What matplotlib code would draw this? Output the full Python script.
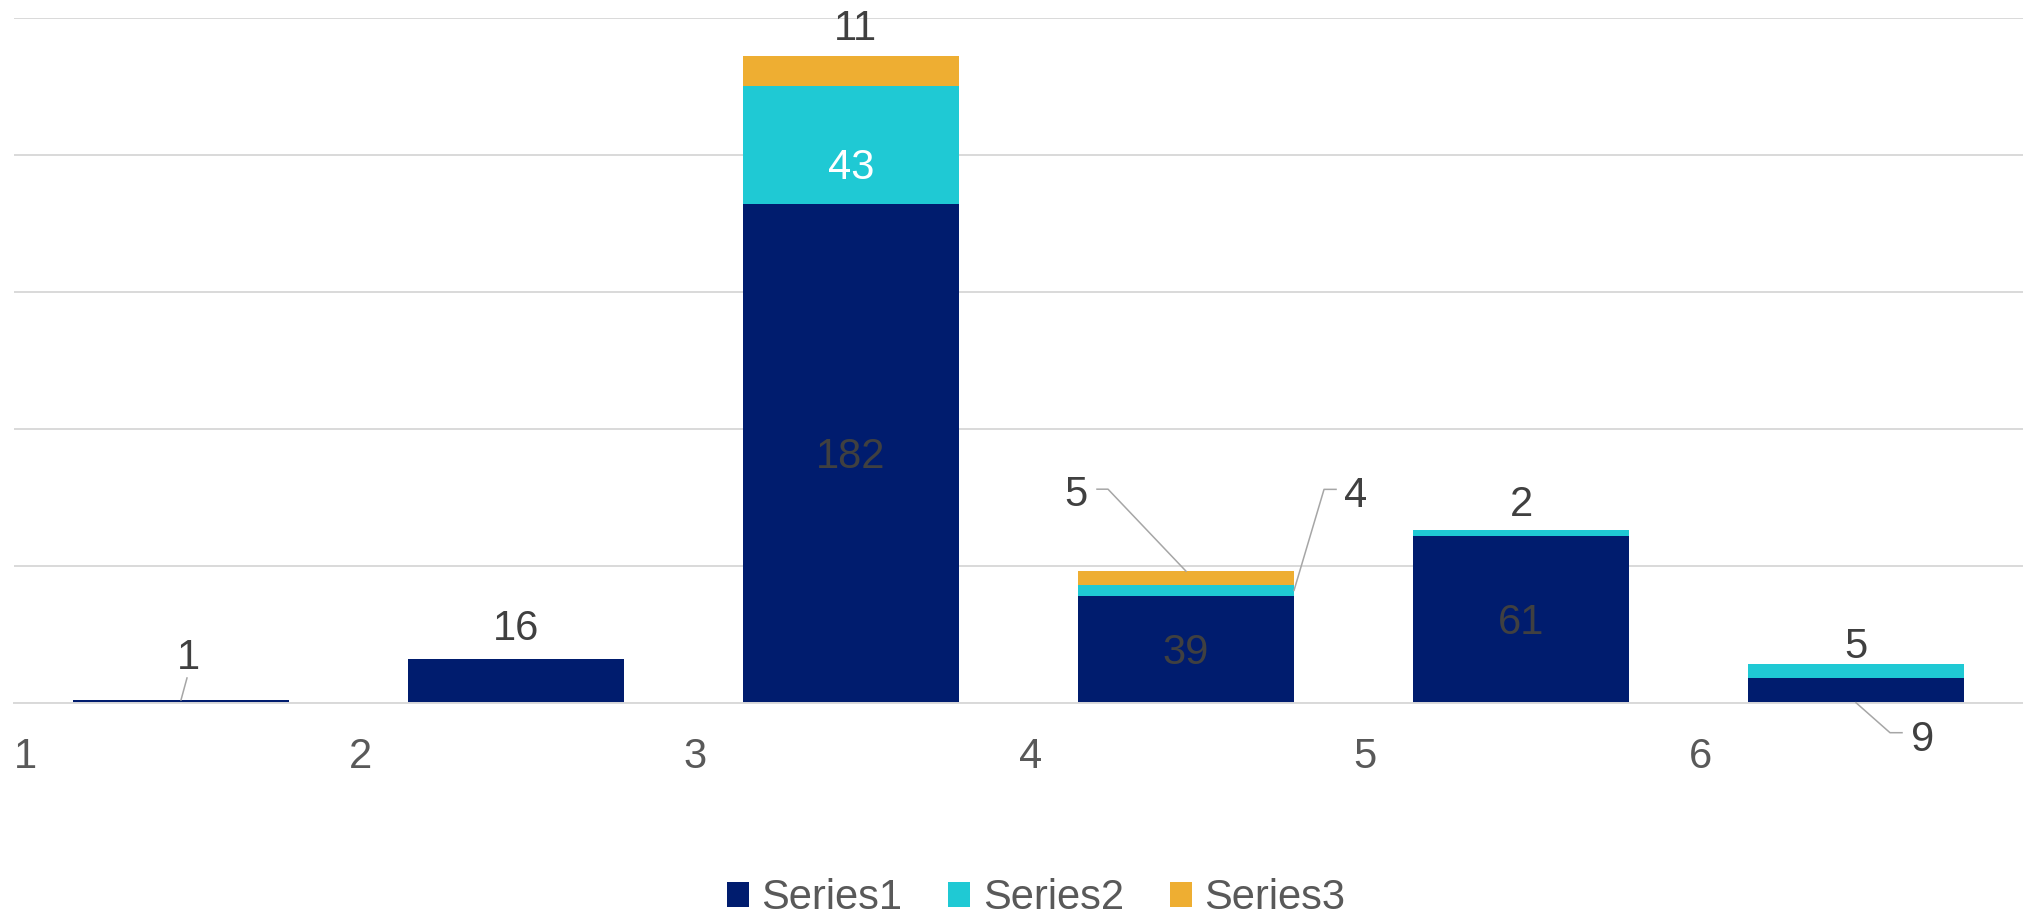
import numpy as np
import matplotlib
matplotlib.use('Agg')
import matplotlib.pyplot as plt
from matplotlib.patches import Patch
from matplotlib.lines import Line2D
from matplotlib.transforms import IdentityTransform

plt.rcParams['font.family'] = ['Liberation Sans', 'DejaVu Sans']

categories = ['1', '2', '3', '4', '5', '6']
series_names = ['Series1', 'Series2', 'Series3']
series1 = [1, 16, 182, 39, 61, 9]
series2 = [0, 0, 43, 4, 2, 5]
series3 = [0, 0, 11, 5, 0, 0]
colors = ['#001C6E', '#1FC9D4', '#EEAE32']

W, H = 2023, 923
fig = plt.figure(figsize=(W / 100, H / 100), dpi=100)
ax = fig.add_axes([13.5 / W, (H - 702.7) / H, 2010 / W, 685 / H])

x = np.arange(len(categories))
bw = 0.645
s1 = np.array(series1)
s2 = np.array(series2)
s3 = np.array(series3)
ax.bar(x, s1, bw, color=colors[0], zorder=2)
ax.bar(x, s2, bw, bottom=s1, color=colors[1], zorder=2)
ax.bar(x, s3, bw, bottom=s1 + s2, color=colors[2], zorder=2)

ax.set_xlim(-0.5, 5.5)
ax.set_ylim(0, 250)
ax.set_yticks(np.arange(0, 251, 50))
ax.yaxis.grid(True, color='#D9D9D9', lw=1.4)
ax.set_axisbelow(True)
for s in ['top', 'right', 'left']:
    ax.spines[s].set_visible(False)
ax.spines['bottom'].set_color('#D9D9D9')
ax.spines['bottom'].set_linewidth(1.4)
ax.tick_params(axis='y', left=False, labelleft=False)
ax.set_xticks(x - 0.5)
ax.set_xticklabels(categories, ha='left')
ax.tick_params(axis='x', length=0, pad=25, labelsize=30, labelcolor='#595959')

FS = 30
DARK = '#404040'
LEAD = '#A6A6A6'
VSHIFT = -4


def label(xd, yd, text, dx=0, dy=0, color=DARK):
    ax.annotate(text, xy=(xd, yd), xytext=(dx, dy + VSHIFT), textcoords='offset pixels',
                ha='center', va='center', fontsize=FS, color=color,
                annotation_clip=False, zorder=5)


def leader(xd, yd, offs):
    px, py = ax.transData.transform((xd, yd))
    xs = [px + o[0] for o in offs]
    ys = [py + o[1] for o in offs]
    ax.add_line(Line2D(xs, ys, transform=IdentityTransform(), color=LEAD,
                       lw=1.1, clip_on=False, zorder=4))


# Category 1
label(x[0], s1[0], str(series1[0]), 7, 46)
leader(x[0], s1[0], [(0, 0), (6, 22)])
# Category 2
label(x[1], s1[1], str(series1[1]), 0, 34)
# Category 3
label(x[2], s1[2] / 2, str(series1[2]))
label(x[2], s1[2] + s2[2] / 2, str(series2[2]), 0, -19, color='white')
label(x[2], s1[2] + s2[2] + s3[2], str(series3[2]), 4, 31)
# Category 4
label(x[3], s1[3] / 2, str(series1[3]))
top4 = s1[3] + s2[3] + s3[3]
label(x[3], top4, str(series3[3]), -110, 80)
leader(x[3], top4, [(0, 0), (-78, 82), (-89, 82)])
mid4 = s1[3] + s2[3] / 2
label(x[3] + bw / 2, mid4, str(series2[3]), 62, 98)
leader(x[3] + bw / 2, mid4, [(0, 0), (30, 101), (42, 101)])
# Category 5
label(x[4], s1[4] / 2, str(series1[4]))
label(x[4], s1[4] + s2[4], str(series2[4]), 0, 29)
# Category 6
label(x[5], s1[5] + s2[5], str(series2[5]), 0, 21)
label(x[5], 0, str(series1[5]), 67, -33)
leader(x[5], 0, [(0, 0), (34, -30), (46, -30)])

handles = [Patch(facecolor=c, edgecolor='none') for c in colors]
fig.legend(handles, series_names, loc='center', bbox_to_anchor=(1036 / W, 1 - 898 / H),
           ncol=3, frameon=False, fontsize=30, handlelength=0.53, handleheight=0.53,
           handletextpad=0.3, columnspacing=1.1, labelcolor='#595959')

fig.savefig('out.png', dpi=100)
